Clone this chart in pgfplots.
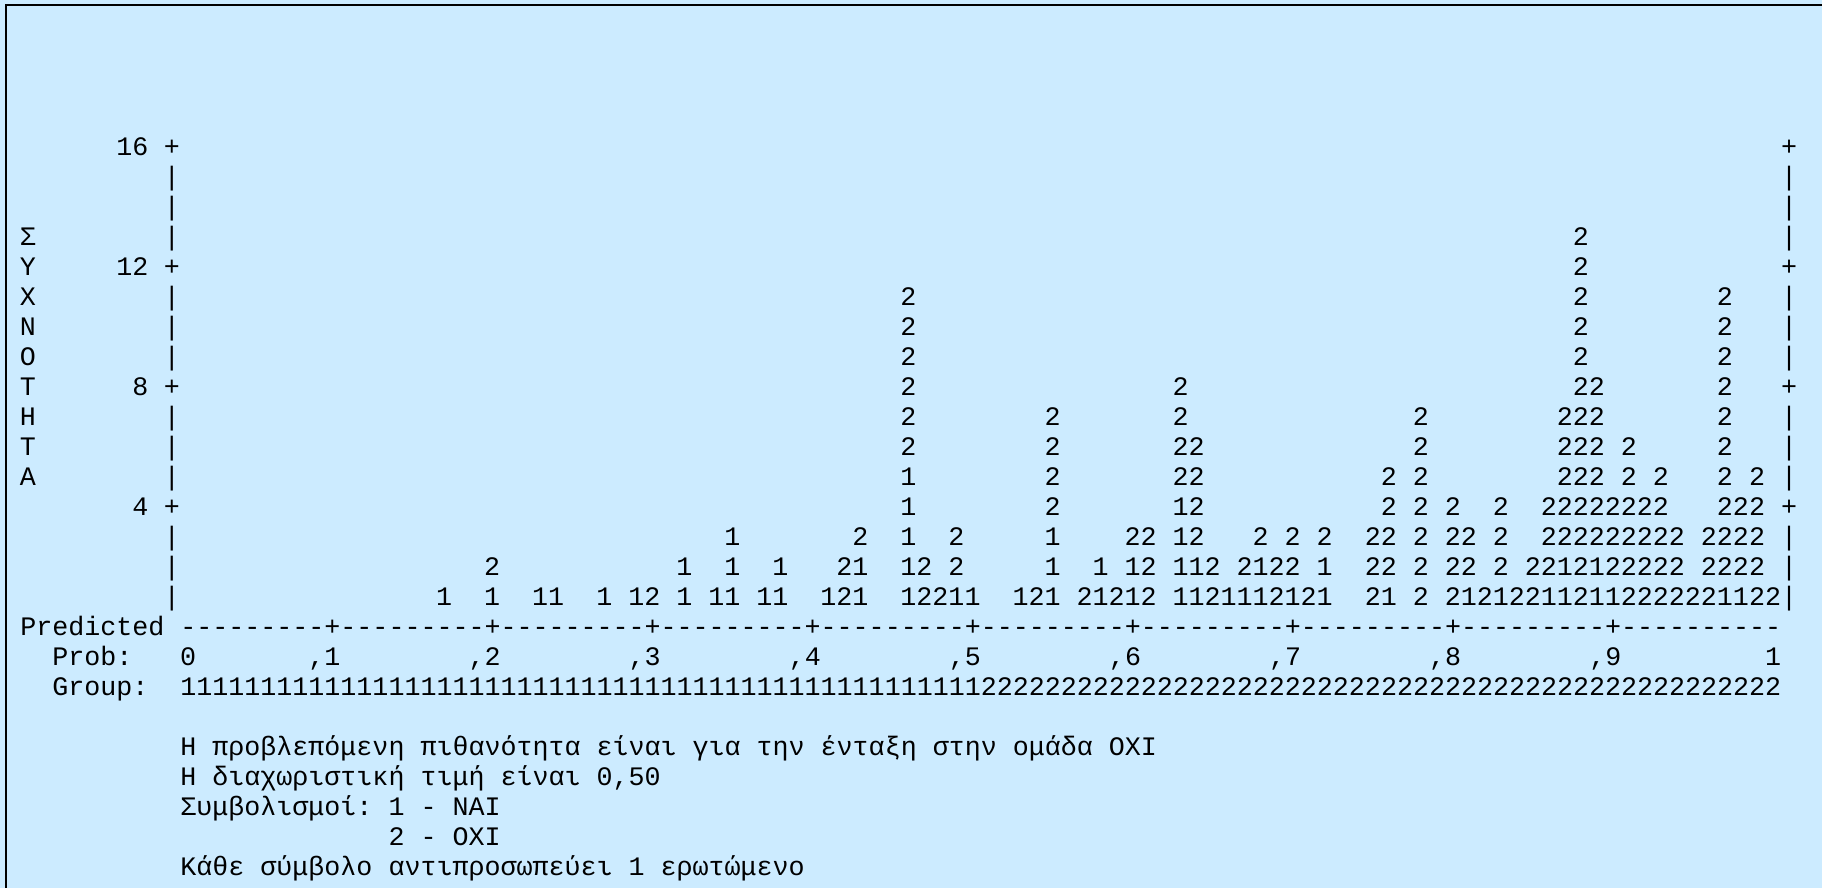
\documentclass[border=0pt]{standalone}
\usepackage{fontspec}
\setmonofont{Liberation Mono}
\usepackage{pgfplots}
\pgfplotsset{compat=1.18}
\definecolor{bg}{RGB}{204,235,255}
\begin{document}
\begin{tikzpicture}
\ttfamily\fontsize{13.34pt}{15pt}\selectfont
\begin{axis}[
  scale only axis, width=911pt, height=444pt,
  xmin=-1.743, xmax=112.06, ymin=-8.407, ymax=21.193,
  hide axis, clip=false,
]
\fill[bg] (rel axis cs:0,0) rectangle (rel axis cs:1,1);
\draw[overlay, black, line width=1pt] (rel axis cs:0.0032,0) -- (rel axis cs:0.0032,0.99437) -- (rel axis cs:1,0.99437);

% frame of the text plot
\addplot[only marks, black, mark=text, text mark={+}, text mark style={base}] coordinates {
 (9,4) (9,8) (9,12) (9,16) (110,4) (110,8) (110,12) (110,16)};
\addplot[only marks, black, mark=text, text mark={|}, text mark style={base}] coordinates {
 (9,1) (9,2) (9,3) (9,5) (9,6) (9,7) (9,9) (9,10) (9,11) (9,13) (9,14) (9,15)
 (110,1) (110,2) (110,3) (110,5) (110,6) (110,7) (110,9) (110,10) (110,11) (110,13) (110,14) (110,15)};

% group 1 (NAI)
\addplot[only marks, black, mark=text, text mark={1}, text mark style={base}] coordinates {
 (26,1) (29,1) (32,1) (33,1) (36,1) (38,1) (41,1) (41,2) (43,1) (44,1) (44,2) (44,3)
 (46,1) (47,1) (47,2) (50,1) (52,1) (52,2) (55,1) (55,2) (55,3) (55,4) (55,5)
 (58,1) (59,1) (62,1) (64,1) (64,2) (64,3) (67,1) (67,2) (69,1) (69,2)
 (72,1) (72,2) (72,3) (72,4) (73,1) (73,2) (75,1) (76,1) (77,1) (77,2) (79,1)
 (81,1) (81,2) (85,1) (90,1) (92,1) (95,1) (96,1) (96,2) (98,1) (98,2) (99,1)
 (106,1) (107,1)};

% group 2 (OXI)
\addplot[only marks, black, mark=text, text mark={2}, text mark style={base}] coordinates {
 (29,2) (39,1) (51,1) (51,2) (52,3)
 (55,6) (55,7) (55,8) (55,9) (55,10) (55,11)
 (56,1) (56,2) (57,1) (58,2) (58,3) (63,1)
 (64,4) (64,5) (64,6) (64,7) (66,1) (68,1) (69,3) (70,1) (70,2) (70,3)
 (72,5) (72,6) (72,7) (72,8) (73,3) (73,4) (73,5) (73,6) (74,1) (74,2)
 (76,2) (77,3) (78,1) (78,2) (79,2) (79,3) (80,1) (81,3)
 (84,1) (84,2) (84,3) (85,2) (85,3) (85,4) (85,5)
 (87,1) (87,2) (87,3) (87,4) (87,5) (87,6) (87,7)
 (89,1) (89,2) (89,3) (89,4) (90,2) (90,3) (91,1) (92,2) (92,3) (92,4) (93,1)
 (94,1) (94,2) (95,2) (95,3) (95,4)
 (96,3) (96,4) (96,5) (96,6) (96,7)
 (97,1) (97,2) (97,3) (97,4) (97,5) (97,6) (97,7) (97,8) (97,9) (97,10) (97,11) (97,12) (97,13)
 (98,3) (98,4) (98,5) (98,6) (98,7) (98,8) (99,2) (99,3) (99,4)
 (100,1) (100,2) (100,3) (100,4) (100,5) (100,6)
 (101,1) (101,2) (101,3) (101,4) (102,1) (102,2) (102,3) (102,4) (102,5)
 (103,1) (103,2) (103,3) (104,1) (105,1) (105,2) (105,3)
 (106,2) (106,3) (106,4) (106,5) (106,6) (106,7) (106,8) (106,9) (106,10) (106,11)
 (107,2) (107,3) (107,4) (108,1) (108,2) (108,3) (108,4) (108,5) (109,1)};

% y tick labels and vertical title
\node[anchor=base west, inner sep=0pt] at (axis cs:5.5,16) {16};
\node[anchor=base west, inner sep=0pt] at (axis cs:5.5,12) {12};
\node[anchor=base west, inner sep=0pt] at (axis cs:6.5,8) {8};
\node[anchor=base west, inner sep=0pt] at (axis cs:6.5,4) {4};
\node[anchor=base, inner sep=0pt] at (axis cs:0,13) {Σ};
\node[anchor=base, inner sep=0pt] at (axis cs:0,12) {Υ};
\node[anchor=base, inner sep=0pt] at (axis cs:0,11) {Χ};
\node[anchor=base, inner sep=0pt] at (axis cs:0,10) {Ν};
\node[anchor=base, inner sep=0pt] at (axis cs:0,9) {Ο};
\node[anchor=base, inner sep=0pt] at (axis cs:0,8) {Τ};
\node[anchor=base, inner sep=0pt] at (axis cs:0,7) {Η};
\node[anchor=base, inner sep=0pt] at (axis cs:0,6) {Τ};
\node[anchor=base, inner sep=0pt] at (axis cs:0,5) {Α};

% x axis line
\node[anchor=base west, inner sep=0pt] at (axis cs:-0.5,0) {Predicted};
\node[anchor=base west, inner sep=0pt] at (axis cs:9.5,0) {---------+---------+---------+---------+---------+---------+---------+---------+---------+----------};
\node[anchor=base west, inner sep=0pt] at (axis cs:1.5,-1) {Prob:};
\node[anchor=base, inner sep=0pt] at (axis cs:10,-1) {0};
\node[anchor=base west, inner sep=0pt] at (axis cs:17.5,-1) {,1};
\node[anchor=base west, inner sep=0pt] at (axis cs:27.5,-1) {,2};
\node[anchor=base west, inner sep=0pt] at (axis cs:37.5,-1) {,3};
\node[anchor=base west, inner sep=0pt] at (axis cs:47.5,-1) {,4};
\node[anchor=base west, inner sep=0pt] at (axis cs:57.5,-1) {,5};
\node[anchor=base west, inner sep=0pt] at (axis cs:67.5,-1) {,6};
\node[anchor=base west, inner sep=0pt] at (axis cs:77.5,-1) {,7};
\node[anchor=base west, inner sep=0pt] at (axis cs:87.5,-1) {,8};
\node[anchor=base west, inner sep=0pt] at (axis cs:97.5,-1) {,9};
\node[anchor=base, inner sep=0pt] at (axis cs:109,-1) {1};
\node[anchor=base west, inner sep=0pt] at (axis cs:1.5,-2) {Group:};
\node[anchor=base west, inner sep=0pt] at (axis cs:9.5,-2) {11111111111111111111111111111111111111111111111111%
22222222222222222222222222222222222222222222222222};

% notes
\node[anchor=base west, inner sep=0pt] at (axis cs:9.5,-4) {Η προβλεπόμενη πιθανότητα είναι για την ένταξη στην ομάδα ΟΧΙ};
\node[anchor=base west, inner sep=0pt] at (axis cs:9.5,-5) {Η διαχωριστική τιμή είναι 0,50};
\node[anchor=base west, inner sep=0pt] at (axis cs:9.5,-6) {Συμβολισμοί: 1 - ΝΑΙ};
\node[anchor=base west, inner sep=0pt] at (axis cs:22.5,-7) {2 - ΟΧΙ};
\node[anchor=base west, inner sep=0pt] at (axis cs:9.5,-8) {Κάθε σύμβολο αντιπροσωπεύει 1 ερωτώμενο};
\end{axis}
\end{tikzpicture}
\end{document}
